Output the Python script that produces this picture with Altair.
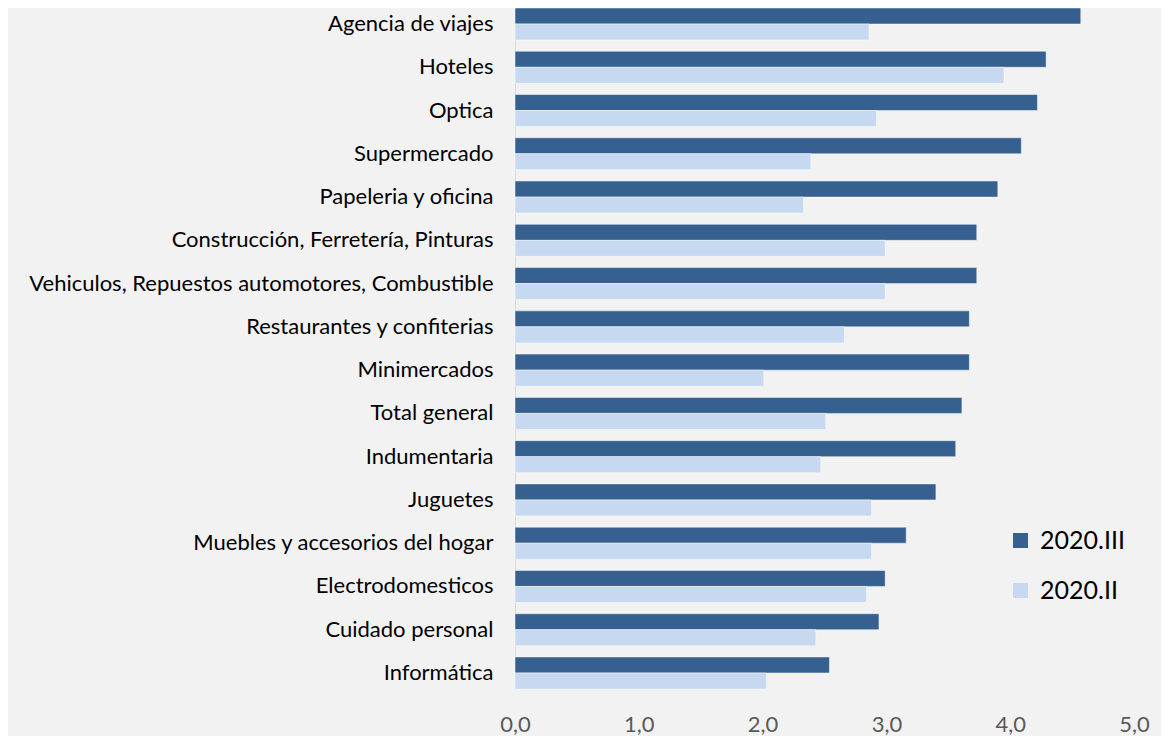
import altair as alt
import pandas as pd

categories = [
    "Agencia de viajes", "Hoteles", "Optica", "Supermercado", "Papeleria y oficina",
    "Construcción, Ferretería, Pinturas", "Vehiculos, Repuestos automotores, Combustible",
    "Restaurantes y confiterias", "Minimercados", "Total general", "Indumentaria",
    "Juguetes", "Muebles y accesorios del hogar", "Electrodomesticos",
    "Cuidado personal", "Informática",
]
serie_iii = [4.57, 4.29, 4.22, 4.09, 3.90, 3.73, 3.73, 3.67, 3.67, 3.61, 3.56, 3.40, 3.16, 2.99, 2.94, 2.54]
serie_ii = [2.86, 3.95, 2.92, 2.39, 2.33, 2.99, 2.99, 2.66, 2.01, 2.51, 2.47, 2.88, 2.88, 2.84, 2.43, 2.03]
series = ["2020.III", "2020.II"]
colors = ["#36608F", "#C6D9F0"]

rows = []
for c, a, b in zip(categories, serie_iii, serie_ii):
    rows.append({"cat": c, "serie": series[0], "valor": a})
    rows.append({"cat": c, "serie": series[1], "valor": b})
df = pd.DataFrame(rows)

FONT = "Lato"

chart = alt.Chart(df).mark_bar(stroke="#ffffff", strokeWidth=0.8, strokeOpacity=0.6).encode(
    y=alt.Y("cat:N", sort=categories, title=None,
            scale=alt.Scale(paddingInner=0.26, paddingOuter=0),
            axis=alt.Axis(ticks=False, domain=True, domainColor="#D9D9D9", domainWidth=1,
                          labelPadding=22, labelFont=FONT, labelFontSize=22,
                          labelColor="#000000", labelLimit=600, grid=False)),
    yOffset=alt.YOffset("serie:N", sort=series),
    x=alt.X("valor:Q", title=None,
            scale=alt.Scale(domain=[0, 5], nice=False),
            axis=alt.Axis(values=[0, 1, 2, 3, 4, 5], domain=False, ticks=False, grid=False,
                          labelPadding=25, labelFont=FONT, labelFontSize=22,
                          labelColor="#595959", labelFlush=False,
                          labelExpr="replace(format(datum.value, '.1f'), '.', ',')")),
    color=alt.Color("serie:N", sort=series,
                    scale=alt.Scale(domain=series, range=colors),
                    legend=alt.Legend(title=None, orient="none", legendX=493, legendY=520,
                                      symbolType="square", symbolSize=225,
                                      symbolStrokeWidth=0, labelFont=FONT,
                                      labelFontSize=25, labelColor="#000000",
                                      labelOffset=7, rowPadding=24)),
).properties(
    width=619, height=681,
    autosize=alt.AutoSizeParams(type="none"),
    padding={"left": 507, "top": 0, "right": 27, "bottom": 47},
).configure(background="#F2F2F2").configure_view(stroke=None)

chart.save("out.html", embed_options={"renderer": "svg", "actions": False})
